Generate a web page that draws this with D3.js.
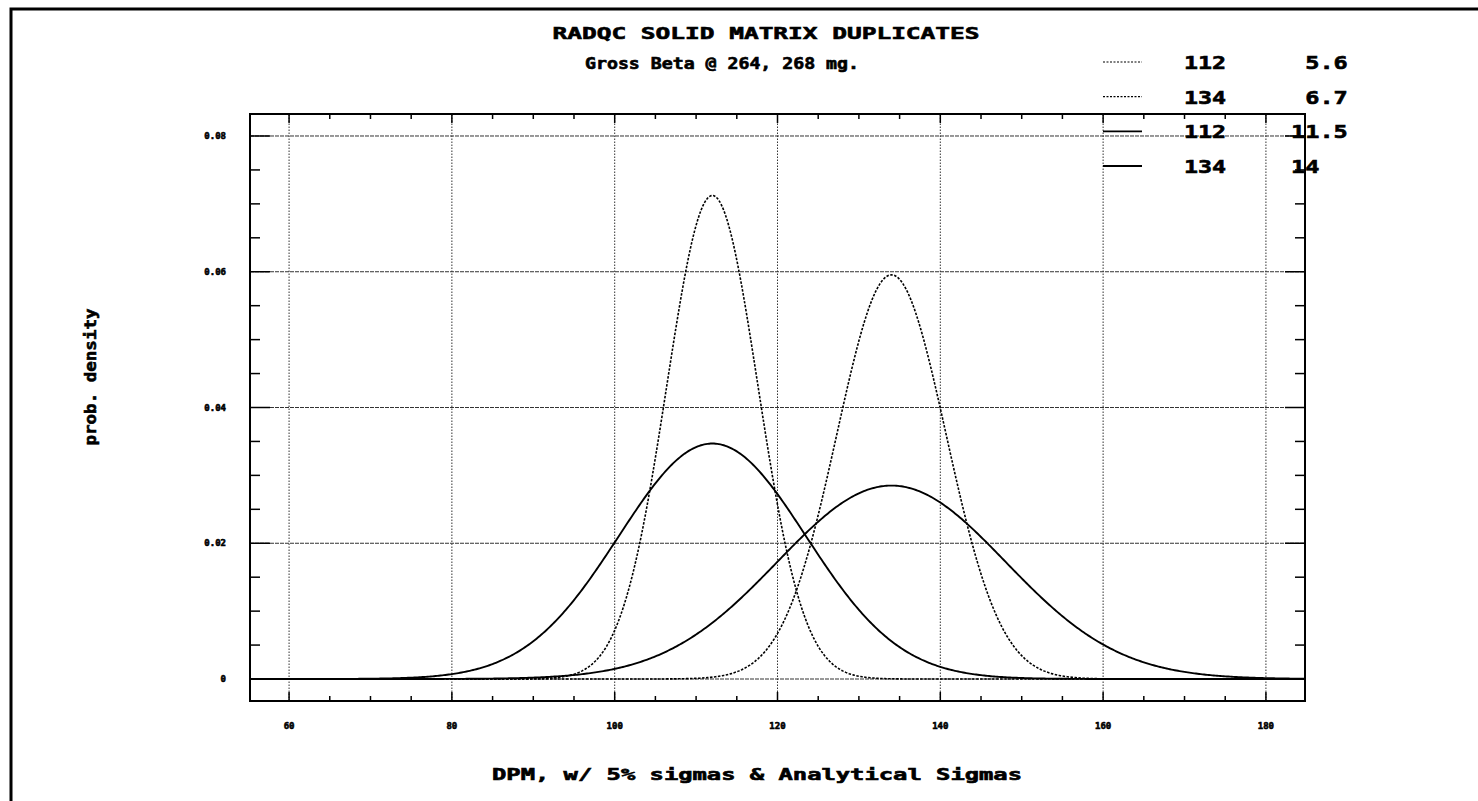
<!DOCTYPE html>
<html>
<head>
<meta charset="utf-8">
<script src="https://cdn.jsdelivr.net/npm/d3@7"></script>
<style>
  body { margin: 0; background: #fff; }
  text { font-family: "DejaVu Sans Mono", monospace; font-weight: bold; fill: #000; stroke: #000; stroke-width: 0.6; white-space: pre; }
</style>
</head>
<body>
<div id="chart"></div>
<script>
// chart values
const means = [112, 134, 112, 134];
const sigmas = [5.6, 6.7, 11.5, 14];
const dotted = [true, true, false, false];
const xTicks = [60, 80, 100, 120, 140, 160, 180];
const yTicks = [0, 0.02, 0.04, 0.06, 0.08];
const yTickLabels = ['0', '0.02', '0.04', '0.06', '0.08'];
const title = 'RADQC SOLID MATRIX DUPLICATES';
const subtitle = 'Gross Beta @ 264, 268 mg.';
const xTitle = 'DPM, w/ 5% sigmas & Analytical Sigmas';
const yTitle = 'prob. density';

const W = 1478, H = 801;
const svg = d3.select('#chart').append('svg').attr('width', W).attr('height', H);

// page frame (left and top edges only)
svg.append('path')
  .attr('d', `M11,801 L11,9 L1478,9`)
  .attr('fill', 'none').attr('stroke', '#000').attr('stroke-width', 3);

const x = d3.scaleLinear().domain([55.2, 184.8]).range([250, 1305]);
const y = d3.scaleLinear().domain([-0.00324, 0.08324]).range([701, 114]);
const [x0, x1] = x.range();
const [y0, y1] = y.range();

// grid
svg.append('g').selectAll('line').data(xTicks).enter().append('line')
  .attr('x1', d => x(d)).attr('x2', d => x(d)).attr('y1', y0).attr('y2', y1)
  .attr('stroke', '#333').attr('stroke-width', 1).attr('stroke-dasharray', '1.5,1.5');
svg.append('g').selectAll('line').data(yTicks).enter().append('line')
  .attr('x1', x0).attr('x2', x1).attr('y1', d => y(d)).attr('y2', d => y(d))
  .attr('stroke', '#333').attr('stroke-width', 1).attr('stroke-dasharray', '4,1');

// minor / major ticks on all four sides, pointing inward
const xMinor = d3.range(60, 181, 5);
const yMinor = d3.range(0, 0.0801, 0.005);
const tk = svg.append('g').attr('stroke', '#000').attr('stroke-width', 1.5);
xMinor.forEach(v => {
  const len = (v % 20 === 0) ? 9 : 5;
  tk.append('line').attr('x1', x(v)).attr('x2', x(v)).attr('y1', y0).attr('y2', y0 - len);
  tk.append('line').attr('x1', x(v)).attr('x2', x(v)).attr('y1', y1).attr('y2', y1 + len);
});
yMinor.forEach((v, i) => {
  const len = (i % 4 === 0) ? 20 : 10;
  tk.append('line').attr('x1', x0).attr('x2', x0 + len).attr('y1', y(v)).attr('y2', y(v));
  tk.append('line').attr('x1', x1).attr('x2', x1 - len).attr('y1', y(v)).attr('y2', y(v));
});

// plot frame
svg.append('rect')
  .attr('x', x0).attr('y', y1).attr('width', x1 - x0).attr('height', y0 - y1)
  .attr('fill', 'none').attr('stroke', '#000').attr('stroke-width', 2);

// tick labels
svg.append('g').selectAll('text').data(xTicks).enter().append('text')
  .attr('x', d => x(d)).attr('y', 729).attr('text-anchor', 'middle')
  .attr('font-size', 9).text(d => d);
svg.append('g').selectAll('text').data(yTicks).enter().append('text')
  .attr('x', 226).attr('y', d => y(d) + 3).attr('text-anchor', 'end')
  .attr('font-size', 9).text((d, i) => yTickLabels[i]);

// density curves
const grid = d3.range(x.domain()[0], x.domain()[1] + 0.01, 0.2);
const pdf = (v, m, s) => Math.exp(-0.5 * ((v - m) / s) ** 2) / (s * Math.sqrt(2 * Math.PI));
const line = d3.line().x(d => x(d[0])).y(d => y(d[1]));
means.forEach((m, i) => {
  svg.append('path')
    .datum(grid.map(v => [v, pdf(v, m, sigmas[i])]))
    .attr('d', line)
    .attr('fill', 'none').attr('stroke', '#000')
    .attr('stroke-width', dotted[i] ? 1.6 : 1.9)
    .attr('stroke-dasharray', dotted[i] ? '2.5,1.5' : null);
});

// titles
svg.append('text').attr('x', 766).attr('y', 39).attr('text-anchor', 'middle')
  .attr('font-size', 16).attr('textLength', 427).attr('lengthAdjust', 'spacingAndGlyphs').text(title);
svg.append('text').attr('x', 722).attr('y', 69).attr('text-anchor', 'middle')
  .attr('font-size', 15).attr('textLength', 274).attr('lengthAdjust', 'spacingAndGlyphs').text(subtitle);
svg.append('text').attr('x', 757).attr('y', 780).attr('text-anchor', 'middle')
  .attr('font-size', 15).attr('textLength', 530).attr('lengthAdjust', 'spacingAndGlyphs').text(xTitle);
svg.append('text').attr('transform', 'translate(96,377) rotate(-90)').attr('text-anchor', 'middle')
  .attr('font-size', 15).attr('textLength', 137).attr('lengthAdjust', 'spacingAndGlyphs').text(yTitle);

// legend
const legY = d3.scalePoint().domain(d3.range(means.length)).range([62, 166]);
const leg = svg.append('g');
means.forEach((m, i) => {
  const ly = legY(i);
  leg.append('line').attr('x1', 1103).attr('x2', 1142).attr('y1', ly).attr('y2', ly)
    .attr('stroke', '#000').attr('stroke-width', dotted[i] ? 1.2 : 1.8)
    .attr('stroke-dasharray', dotted[i] ? '2,1.5' : null);
  leg.append('text').attr('x', 1184).attr('y', ly + 7).attr('font-size', 18)
    .attr('textLength', 42).attr('lengthAdjust', 'spacingAndGlyphs').text(m);
  const s = String(sigmas[i]);
  const lab = s.includes('.') ? s.padStart(4) : s;
  leg.append('text').attr('x', 1291).attr('y', ly + 7).attr('font-size', 18)
    .attr('textLength', lab.length * 14.2).attr('lengthAdjust', 'spacingAndGlyphs').text(lab);
});
</script>
</body>
</html>
